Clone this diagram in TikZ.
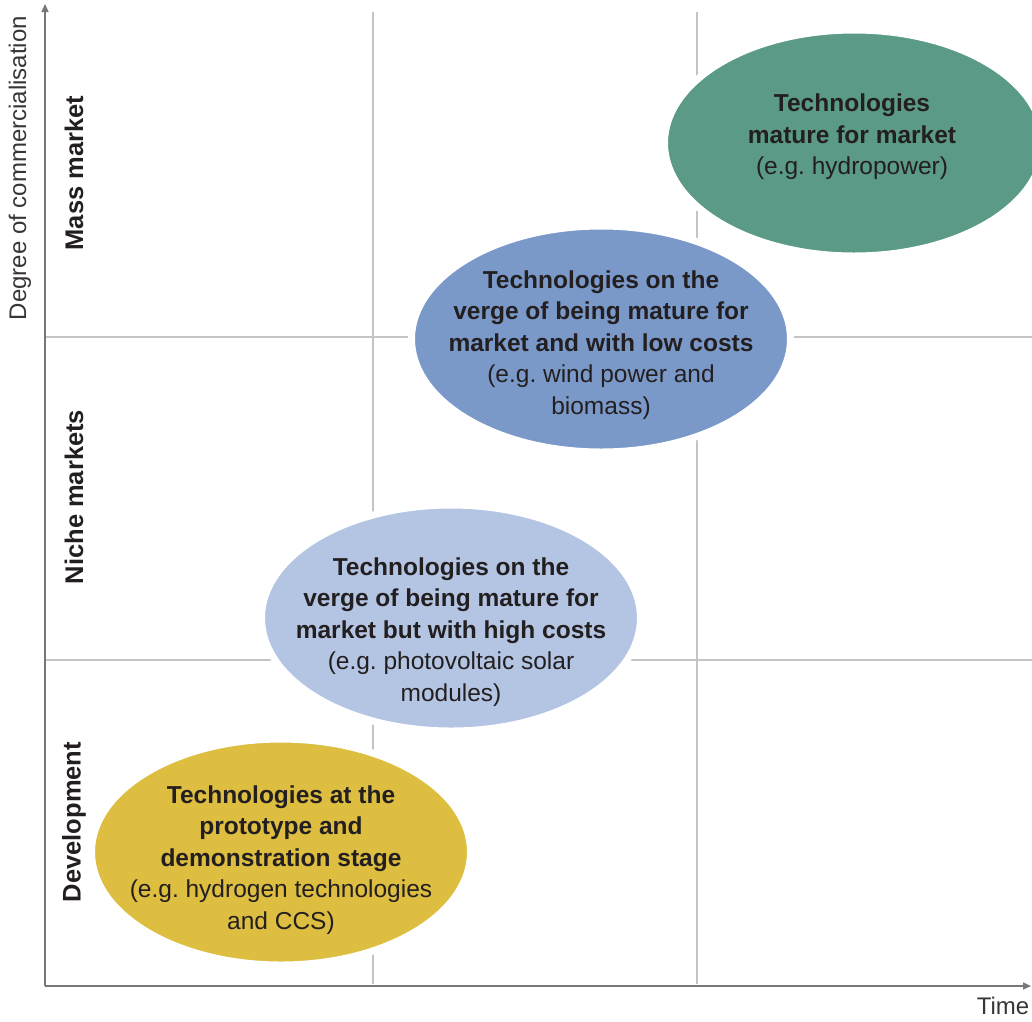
\documentclass[tikz,border=0pt]{standalone}
\usepackage{fontspec}
\setmainfont{Liberation Sans}
\usepackage{tikz}
\usetikzlibrary{shapes,arrows.meta,positioning}
\usepackage{xcolor}
\frenchspacing

\definecolor{matureGreen}{HTML}{5A9A87}
\definecolor{lowBlue}{HTML}{7A99C9}
\definecolor{highBlue}{HTML}{B4C5E3}
\definecolor{protoYellow}{HTML}{DDBE41}
\definecolor{textDark}{HTML}{231F20}
\definecolor{axisGray}{HTML}{777777}
\definecolor{gridGray}{HTML}{C4C4C4}

\begin{document}
\begin{tikzpicture}[x=1pt, y=-1pt,
    phase/.style={ellipse, draw=white, line width=7pt, minimum width=379pt, minimum height=226pt, inner sep=0pt},
    phasetext/.style={align=center, text=textDark, font=\fontsize{24.5}{31.5}\selectfont},
    stage/.style={rotate=90, text=textDark, font=\bfseries\fontsize{25.5}{30}\selectfont},
    axislabel/.style={text=textDark!90, font=\fontsize{24}{30}\selectfont},
    axisline/.style={draw=axisGray, line width=1.4pt, -{Triangle[length=8pt,width=7pt]}},
    gridline/.style={draw=gridGray, line width=2.2pt}]
    \useasboundingbox (0,0) rectangle (1032,1021);

    % grid of the four stages
    \draw[gridline] (373,12) -- (373,984);
    \draw[gridline] (697,12) -- (697,984);
    \draw[gridline] (46,337) -- (1032,337);
    \draw[gridline] (46,660) -- (1032,660);

    % axes
    \coordinate (origin) at (45,986);
    \coordinate (ytop) at (45,4);
    \coordinate (xend) at (1031,986);
    \draw[axisline] (origin) -- (ytop);
    \draw[axisline] (origin) -- (xend);
    \node[axislabel, rotate=90] (yname) at (20,168) {Degree of commercialisation};
    \node[axislabel] (xname) at (1003,1006) {Time};

    \node[stage] (mass) at (74,173) {Mass market};
    \node[stage] (niche) at (74,497) {Niche markets};
    \node[stage] (develop) at (74,822) {Development};

    % ellipses
    \node[phase, fill=protoYellow] (proto) at (281,852) {};
    \node[phase, fill=highBlue] (highcost) at (451,618) {};
    \node[phase, fill=lowBlue] (lowcost) at (601,339) {};
    \node[phase, fill=matureGreen] (mature) at (854,143) {};

    \node[phasetext] (protoText) at ([yshift=-8pt]proto.center) {\textbf{Technologies at the}\\ \textbf{prototype and}\\ \textbf{demonstration stage}\\ (e.g. hydrogen technologies\\ and CCS)};
    \node[phasetext] (highText) at ([yshift=-14pt]highcost.center) {\textbf{Technologies on the}\\ \textbf{verge of being mature for}\\ \textbf{market but with high costs}\\ (e.g. photovoltaic solar\\ modules)};
    \node[phasetext] (lowText) at ([yshift=-6pt]lowcost.center) {\textbf{Technologies on the}\\ \textbf{verge of being mature for}\\ \textbf{market and with low costs}\\ (e.g. wind power and\\ biomass)};
    \node[phasetext] (matureText) at ([yshift=6pt,xshift=-2pt]mature.center) {\textbf{Technologies}\\ \textbf{mature for market}\\ (e.g. hydropower)};
\end{tikzpicture}
\end{document}
